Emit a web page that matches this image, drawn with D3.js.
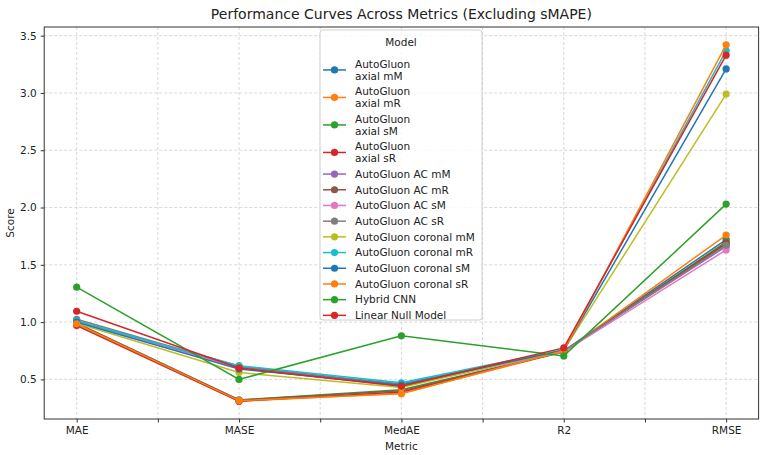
<!DOCTYPE html>
<html>
<head>
<meta charset="utf-8">
<script src="https://cdn.jsdelivr.net/npm/d3@7"></script>
<style>
	body { margin: 0; background: #fff; }
	svg text { font-family: "DejaVu Sans", sans-serif; fill: #222; }
</style>
</head>
<body>
<svg id="chart" width="767" height="455"></svg>
<script>
// metrics on the x axis
var metrics = [ 'MAE', 'MASE', 'MedAE', 'R2', 'RMSE' ];

// models, in legend order
var models = [ 'AutoGluon\naxial mM', 'AutoGluon\naxial mR', 'AutoGluon\naxial sM',
		'AutoGluon\naxial sR', 'AutoGluon AC mM', 'AutoGluon AC mR',
		'AutoGluon AC sM', 'AutoGluon AC sR', 'AutoGluon coronal mM',
		'AutoGluon coronal mR', 'AutoGluon coronal sM', 'AutoGluon coronal sR',
		'Hybrid CNN', 'Linear Null Model' ];

// scores per metric, one value per model
var maeScores = [ 1.00, 0.98, 0.99, 0.97, 1.01, 0.99, 1.00, 1.025, 0.99, 1.01, 1.00, 0.985, 1.305, 1.095 ];
var maseScores = [ 0.60, 0.31, 0.32, 0.31, 0.61, 0.32, 0.60, 0.615, 0.56, 0.62, 0.59, 0.315, 0.50, 0.60 ];
var medaeScores = [ 0.46, 0.38, 0.41, 0.39, 0.45, 0.40, 0.44, 0.455, 0.43, 0.47, 0.45, 0.375, 0.88, 0.44 ];
var r2Scores = [ 0.75, 0.74, 0.74, 0.745, 0.75, 0.745, 0.74, 0.75, 0.755, 0.76, 0.755, 0.75, 0.705, 0.775 ];
var rmseScores = [ 1.72, 1.76, 1.70, 1.69, 1.66, 1.68, 1.63, 1.67, 2.99, 3.37, 3.21, 3.42, 2.03, 3.33 ];

// y tick labels
var yTicks = [ 0.5, 1.0, 1.5, 2.0, 2.5, 3.0, 3.5 ];

// build series table
var columns = [ maeScores, maseScores, medaeScores, r2Scores, rmseScores ];
var series = models.map(function(name, i) {
	return {
		name : name,
		values : columns.map(function(col, j) {
			return { metric : j, score : col[i] };
		})
	};
});

var colorScale = d3.scaleOrdinal(d3.schemeCategory10);

var svg = d3.select('svg#chart');
var plotLeft = 44.2, plotRight = 758.6, plotTop = 27, plotBottom = 419;

// matplotlib style 5% margins
var x = d3.scaleLinear().domain([ -0.2, metrics.length - 1 + 0.2 ]).range([ plotLeft, plotRight ]);
var allScores = d3.merge(columns);
var ext = d3.extent(allScores);
var pad = (ext[1] - ext[0]) * 0.05;
var y = d3.scaleLinear().domain([ ext[0] - pad, ext[1] + pad ]).range([ plotBottom, plotTop ]);

// grid positions, including half steps
var xGrid = d3.range(0, metrics.length - 0.5, 0.5);

// grid lines
var grid = svg.append('g').attr('stroke', '#cfcfcf').attr('stroke-width', 0.8)
		.attr('stroke-dasharray', '3,2');
grid.selectAll('.gx').data(xGrid).enter().append('line').attr('x1', function(d) {
	return x(d);
}).attr('x2', function(d) {
	return x(d);
}).attr('y1', plotTop).attr('y2', plotBottom);
grid.selectAll('.gy').data(yTicks).enter().append('line').attr('y1', function(d) {
	return y(d);
}).attr('y2', function(d) {
	return y(d);
}).attr('x1', plotLeft).attr('x2', plotRight);

// axes
var xAxis = d3.axisBottom(x).tickValues(xGrid).tickSize(3.5).tickPadding(4)
		.tickFormat(function(d) {
			return d % 1 === 0 ? metrics[d] : '';
		});
svg.append('g').attr('transform', 'translate(0,' + plotBottom + ')').call(xAxis)
		.call(function(g) {
			g.select('.domain').remove();
			g.selectAll('text').style('font-size', '10.5px').attr('fill', '#222');
			g.selectAll('line').attr('stroke', '#333');
		});

var yAxis = d3.axisLeft(y).tickValues(yTicks).tickSize(3.5).tickPadding(4)
		.tickFormat(d3.format('.1f'));
svg.append('g').attr('transform', 'translate(' + plotLeft + ',0)').call(yAxis)
		.call(function(g) {
			g.select('.domain').remove();
			g.selectAll('text').style('font-size', '10.5px').attr('fill', '#222');
			g.selectAll('line').attr('stroke', '#333');
		});

// frame
svg.append('rect').attr('x', plotLeft).attr('y', plotTop).attr('width', plotRight - plotLeft)
		.attr('height', plotBottom - plotTop).attr('fill', 'none').attr('stroke', '#333')
		.attr('stroke-width', 1);

// lines and markers
var line = d3.line().x(function(d) {
	return x(d.metric);
}).y(function(d) {
	return y(d.score);
});

var groups = svg.selectAll('.series').data(series).enter().append('g')
		.classed('series', true);

groups.append('path').attr('d', function(d) {
	return line(d.values);
}).attr('fill', 'none').attr('stroke', function(d, i) {
	return colorScale(i);
}).attr('stroke-width', 1.5);

groups.selectAll('circle').data(function(d, i) {
	return d.values.map(function(v) {
		return { metric : v.metric, score : v.score, idx : i };
	});
}).enter().append('circle').attr('cx', function(d) {
	return x(d.metric);
}).attr('cy', function(d) {
	return y(d.score);
}).attr('r', 3.6).attr('fill', function(d) {
	return colorScale(d.idx);
});

// title and axis labels
svg.append('text').attr('x', (plotLeft + plotRight) / 2).attr('y', 19).attr('text-anchor', 'middle')
		.style('font-size', '14px').text('Performance Curves Across Metrics (Excluding sMAPE)');
svg.append('text').attr('x', (plotLeft + plotRight) / 2).attr('y', 450).attr('text-anchor', 'middle')
		.style('font-size', '10.5px').text('Metric');
svg.append('text').attr('transform', 'translate(14,' + ((plotTop + plotBottom) / 2) + ') rotate(-90)')
		.attr('text-anchor', 'middle').style('font-size', '10.5px').text('Score');

// legend
var legend = svg.append('g');
legend.append('rect').attr('x', 320).attr('y', 30).attr('width', 162).attr('height', 290)
		.attr('rx', 3).attr('fill', 'white').attr('fill-opacity', 0.8)
		.attr('stroke', '#d0d0d0').attr('stroke-width', 1);
legend.append('text').attr('x', 401).attr('y', 46).attr('text-anchor', 'middle')
		.style('font-size', '10.5px').text('Model');

var lineHeight = 11.8;
var cursor = 56.2;
series.forEach(function(s, i) {
	var lines = s.name.split('\n');
	var h = 15.7 + (lines.length - 1) * lineHeight;
	var cy = cursor + h / 2;
	legend.append('line').attr('x1', 323).attr('x2', 346).attr('y1', cy).attr('y2', cy)
			.attr('stroke', colorScale(i)).attr('stroke-width', 1.5);
	legend.append('circle').attr('cx', 334.5).attr('cy', cy).attr('r', 3.6)
			.attr('fill', colorScale(i));
	var t = legend.append('text').attr('x', 355).style('font-size', '10.5px');
	var firstY = cy - (lines.length - 1) * lineHeight / 2 + 3.8;
	lines.forEach(function(l, k) {
		t.append('tspan').attr('x', 355).attr('y', firstY + k * lineHeight).text(l);
	});
	cursor += h;
});
</script>
</body>
</html>
